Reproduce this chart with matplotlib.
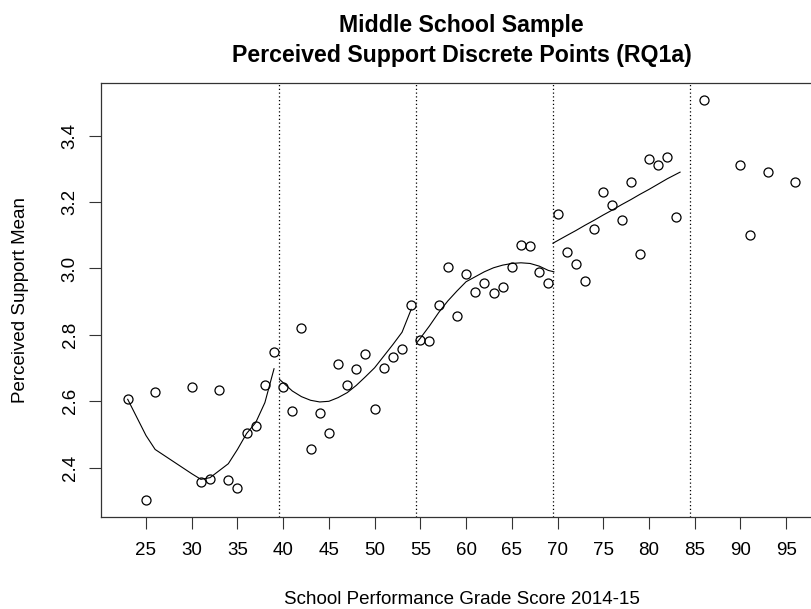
import matplotlib
matplotlib.use("Agg")
import matplotlib.pyplot as plt

# observed school scores and perceived support means
scores = [23, 25, 26, 30, 31, 32, 33, 34, 35, 36, 37, 38, 39,
          40, 41, 42, 43, 44, 45, 46, 47, 48, 49, 50, 51, 52, 53, 54,
          55, 56, 57, 58, 59, 60, 61, 62, 63, 64, 65, 66, 67, 68, 69,
          70, 71, 72, 73, 74, 75, 76, 77, 78, 79, 80, 81, 82, 83,
          86, 90, 91, 93, 96]
support = [2.606, 2.302, 2.629, 2.644, 2.357, 2.365, 2.633, 2.362, 2.340, 2.505, 2.527, 2.648, 2.748,
           2.644, 2.571, 2.822, 2.455, 2.564, 2.505, 2.712, 2.650, 2.698, 2.741, 2.578, 2.701, 2.733, 2.756, 2.889,
           2.784, 2.782, 2.889, 3.005, 2.857, 2.984, 2.930, 2.956, 2.926, 2.943, 3.005, 3.071, 3.069, 2.990, 2.955,
           3.165, 3.049, 3.012, 2.962, 3.118, 3.231, 3.190, 3.147, 3.259, 3.045, 3.329, 3.310, 3.336, 3.155,
           3.508, 3.310, 3.100, 3.289, 3.259]

# smoothed fits per segment
seg1_x = [23, 25, 26, 30, 31, 32, 33, 34, 35, 36, 37, 38, 39]
seg1_fit = [2.606, 2.497, 2.455, 2.382, 2.365, 2.370, 2.391, 2.412, 2.455, 2.503, 2.536, 2.596, 2.698]
seg2_x = [39.6, 41, 42, 43, 44, 45, 46, 47, 48, 49, 50, 51, 52, 53, 54]
seg2_fit = [2.666, 2.631, 2.614, 2.603, 2.598, 2.600, 2.611, 2.626, 2.648, 2.674, 2.701, 2.736, 2.771, 2.808, 2.877]
seg3_x = [54.6, 55, 56, 57, 58, 59, 60, 61, 62, 63, 64, 65, 66, 67, 68, 69, 69.6]
seg3_fit = [2.776, 2.790, 2.827, 2.867, 2.902, 2.932, 2.960, 2.975, 2.990, 3.002, 3.010, 3.015, 3.017, 3.015,
            3.007, 2.994, 2.990]
seg4_x = [69.5, 71, 72, 73, 74, 75, 76, 77, 78, 79, 80, 81, 82, 83.4]
seg4_fit = [3.076, 3.099, 3.114, 3.130, 3.145, 3.161, 3.176, 3.192, 3.207, 3.223, 3.238, 3.254, 3.270, 3.290]

cutpoints = [39.5, 54.5, 69.5, 84.5]
x_ticks = list(range(25, 100, 5))
y_ticks = [2.4, 2.6, 2.8, 3.0, 3.2, 3.4]

plt.rcParams['font.family'] = ['Liberation Sans', 'DejaVu Sans']

fig = plt.figure(figsize=(8.12, 6.09), dpi=100)
W, H = 812, 609
left, right, top, bottom = 101, 822, 83, 517
ax = fig.add_axes([left / W, 1 - bottom / H, (right - left) / W, (bottom - top) / H])

ax.plot(scores, support, 'o', mfc='none', mec='black', ms=6.5, mew=0.9, clip_on=False)
for sx, sf in [(seg1_x, seg1_fit), (seg2_x, seg2_fit), (seg3_x, seg3_fit), (seg4_x, seg4_fit)]:
    ax.plot(sx, sf, color='black', lw=0.8)
for c in cutpoints:
    ax.axvline(c, color='black', lw=0.9, linestyle=(0, (1, 2)))

ax.set_xlim(20.08, 98.92)
ax.set_ylim(2.2516, 3.5584)
ax.set_xticks(x_ticks)
ax.set_yticks(y_ticks)
ax.set_xticklabels([str(t) for t in x_ticks])
ax.set_yticklabels([f"{t:.1f}" for t in y_ticks], rotation=90, va='center')
ax.tick_params(axis='both', direction='out', length=8.5, width=0.8, labelsize=13.5, color='#333333')
ax.tick_params(axis='x', pad=9.5)
ax.tick_params(axis='y', pad=7.5)
for s in ax.spines.values():
    s.set_linewidth(0.9)
    s.set_color('#333333')

ax.set_xlabel("School Performance Grade Score 2014-15", fontsize=13.5)
ax.xaxis.set_label_coords((461.5 - left) / (right - left), (bottom - 599) / (bottom - top), transform=ax.transAxes)
ax.xaxis.label.set_va('center')
ax.set_ylabel("Perceived Support Mean", fontsize=13.5)
ax.yaxis.set_label_coords((21 - left) / (right - left), 0.5)
ax.yaxis.label.set_va('center')

fig.text(461.5 / W, 1 - 32 / H, "Middle School Sample", ha='center', va='baseline',
         fontsize=16.7, fontweight='bold')
fig.text(461.5 / W, 1 - 62 / H, "Perceived Support Discrete Points (RQ1a)", ha='center', va='baseline',
         fontsize=16.7, fontweight='bold')

fig.savefig("out.png", dpi=100)
